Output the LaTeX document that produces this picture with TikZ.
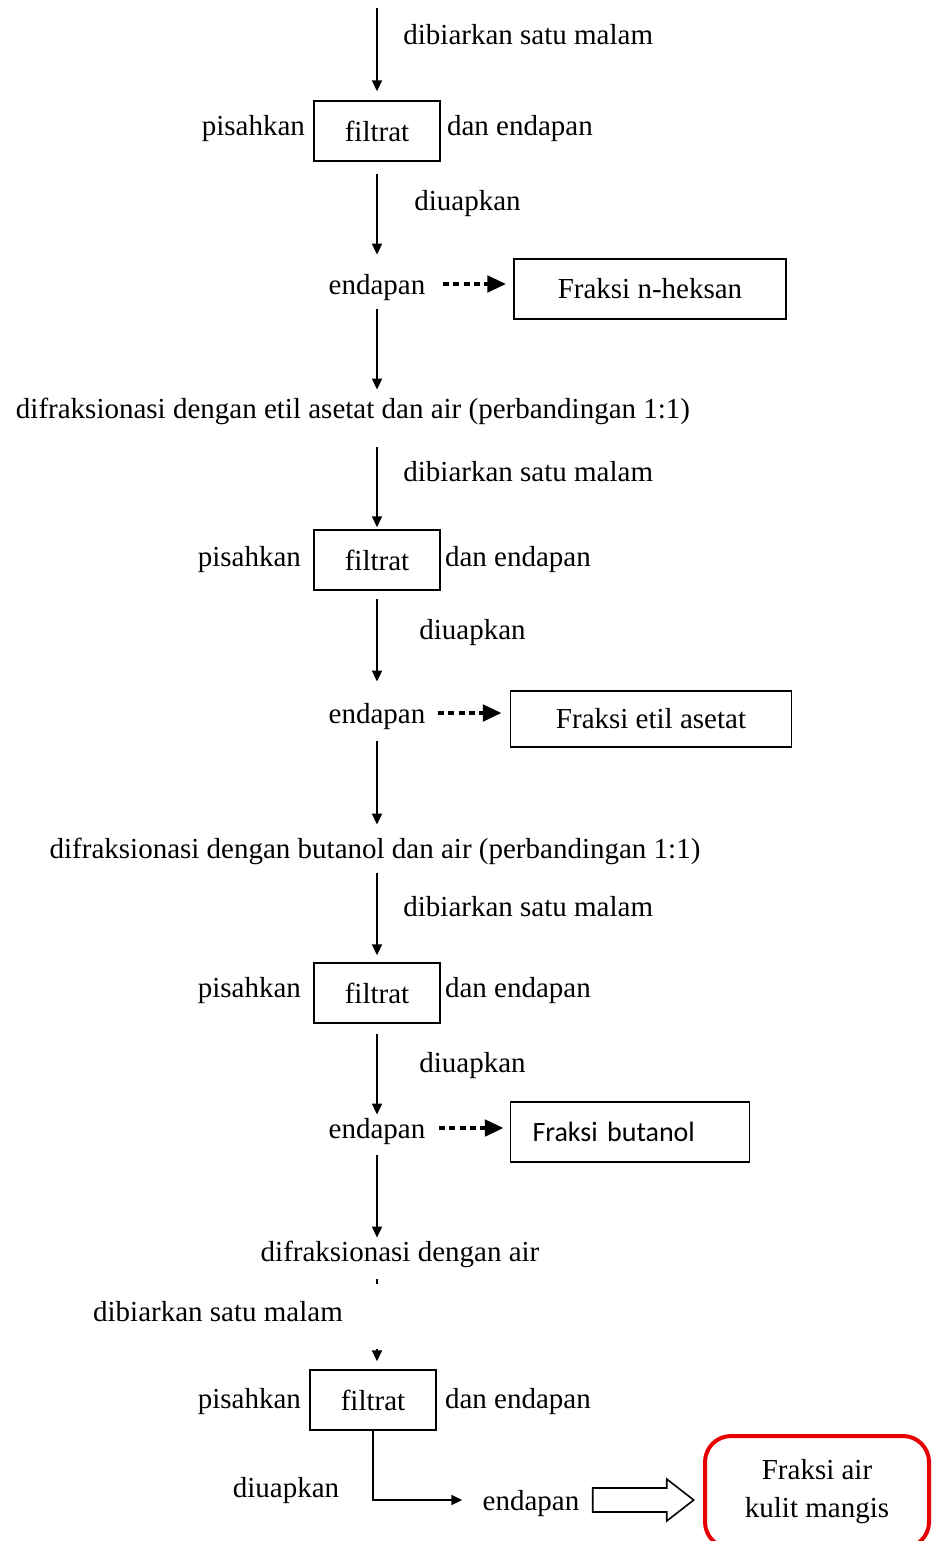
\documentclass[tikz,border=0pt]{standalone}
\usepackage{fontspec}
\setmainfont{Liberation Serif}
\newfontfamily\calibrifont{Carlito}
\usetikzlibrary{arrows.meta,positioning,calc}
\definecolor{boxred}{RGB}{232,0,0}

\begin{document}
\begin{tikzpicture}[x=0.5pt, y=-0.5pt, font=\fontsize{14.5}{16.5}\selectfont,
  lbl/.style={inner sep=0pt, text height=12pt, text depth=2pt},
  stepbox/.style={draw, line width=0.7pt, minimum width=63pt, minimum height=30pt, inner sep=0pt},
  fraksi/.style={draw, line width=0.7pt, minimum height=30pt, inner sep=0pt},
  arr/.style={-{Triangle[length=5.5pt, width=5pt]}, line width=0.9pt},
  dotarr/.style={-{Triangle[length=9.5pt, width=8pt]}, line width=2.4pt, dash pattern=on 3pt off 2.2pt}]
  \useasboundingbox (0,0) rectangle (933,1541);

  % tahap 1: n-heksan
  \coordinate (top) at (377,8);
  \node[stepbox] (f1) at (377,131) {filtrat};
  \node[lbl, left=4pt of f1, yshift=3pt] (p1) {pisahkan};
  \node[lbl, right=3pt of f1, yshift=3pt] (de1) {dan endapan};
  \node[lbl, anchor=west] (b1) at (403,35) {dibiarkan satu malam};
  \node[lbl, anchor=west] (u1) at (414,200) {diuapkan};
  \node[lbl] (e1) at (377,284) {endapan};
  \node[fraksi, minimum width=136pt] (x1) at (650,289) {Fraksi n-heksan};
  \node[lbl] (d1) at (353,408) {difraksionasi dengan etil asetat dan air (perbandingan 1:1)};
  \draw[arr] (top) -- ([yshift=4.5pt]f1.north);
  \draw[arr] ([yshift=-6pt]f1.south) -- ([yshift=7.5pt]e1.north);
  \draw[dotarr, shorten <=8.5pt, shorten >=3.5pt] (e1.east) -- (e1.east -| x1.west);
  \draw[arr] ([yshift=-5.5pt]e1.south) -- ([yshift=2pt]e1.south |- d1.north);

  % tahap 2: etil asetat
  \node[stepbox] (f2) at (377,560) {filtrat};
  \node[lbl, left=6pt of f2, yshift=2pt] (p2) {pisahkan};
  \node[lbl, right=2pt of f2, yshift=2pt] (de2) {dan endapan};
  \node[lbl, anchor=west] (b2) at (403,471) {dibiarkan satu malam};
  \node[lbl, anchor=west] (u2) at (419,629) {diuapkan};
  \node[lbl] (e2) at (377,713) {endapan};
  \node[fraksi, minimum width=140.5pt, minimum height=28pt] (x2) at (651,719) {Fraksi etil asetat};
  \node[lbl] (d2) at (375,848) {difraksionasi dengan butanol dan air (perbandingan 1:1)};
  \draw[arr] ([yshift=-12.5pt]d1.south -| f2.north) -- ([yshift=1pt]f2.north);
  \draw[arr] ([yshift=-4pt]f2.south) -- ([yshift=8.5pt]e2.north);
  \draw[dotarr, shorten <=6pt, shorten >=4pt] (e2.east) -- (e2.east -| x2.west);
  \draw[arr] ([yshift=-7pt]e2.south) -- ([yshift=4.5pt]e2.south |- d2.north);

  % tahap 3: butanol
  \node[stepbox] (f3) at (377,993) {filtrat};
  \node[lbl, left=6pt of f3, yshift=3pt] (p3) {pisahkan};
  \node[lbl, right=2pt of f3, yshift=3pt] (de3) {dan endapan};
  \node[lbl, anchor=west] (b3) at (403,906) {dibiarkan satu malam};
  \node[lbl, anchor=west] (u3) at (419,1062) {diuapkan};
  \node[lbl] (e3) at (377,1128) {endapan};
  \node[fraksi, text width=97.5pt, align=left, inner xsep=11pt,
    font=\calibrifont\fontsize{14}{16}\selectfont] (x3) at (630,1132) {Fraksi butanol};
  \node[lbl] (d3) at (400,1251) {difraksionasi dengan air};
  \draw[arr] ([yshift=-5.5pt]d2.south -| f3.north) -- ([yshift=3.5pt]f3.north);
  \draw[arr] ([yshift=-5pt]f3.south) -- ([yshift=-0.5pt]e3.north);
  \draw[dotarr, shorten <=6.5pt, shorten >=3pt] (e3.east) -- (e3.east -| x3.west);
  \draw[arr] ([yshift=-6.5pt]e3.south) -- ([yshift=-0.5pt]e3.south |- d3.north);

  % tahap 4: air
  \coordinate (t1) at (377,1279);
  \coordinate (t2) at (377,1284);
  \draw[line width=0.9pt] (t1) -- (t2);
  \node[lbl] (b4) at (218,1311) {dibiarkan satu malam};
  \node[stepbox] (f4) at (373,1400) {filtrat};
  \node[lbl, left=4pt of f4, yshift=1pt] (p4) {pisahkan};
  \node[lbl, right=4pt of f4, yshift=1pt] (de4) {dan endapan};
  \coordinate (a4) at (377,1349);
  \draw[arr] (a4) -- ([xshift=2pt, yshift=4pt]f4.north);
  \node[lbl] (u4) at (286,1487) {diuapkan};
  \node[lbl] (e4) at (531,1500) {endapan};
  \draw[arr] (f4.south) |- ([xshift=-10pt]e4.west);
  \draw[line width=0.8pt, shift={(e4.east)}]
    (13,-12) -- (87,-12) -- (87,-21) -- (114,0) -- (87,21) -- (87,12) -- (13,12) -- cycle;
  \node[draw=boxred, line width=2pt, rounded corners=13pt, minimum width=112pt,
    minimum height=56pt, align=center] (fa) at (817,1492) {Fraksi air\\[2.5pt]kulit mangis};
\end{tikzpicture}
\end{document}
